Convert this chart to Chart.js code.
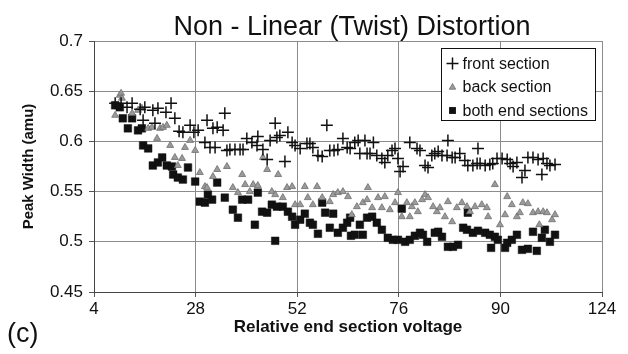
<!DOCTYPE html>
<html>
<head>
<meta charset="utf-8">
<script src="https://cdn.jsdelivr.net/npm/chart.js@4.4.0/dist/chart.umd.min.js"></script>
<style>
  html, body { margin: 0; padding: 0; background: #fff; }
  #wrap { position: relative; width: 628px; height: 354px; }
</style>
</head>
<body>
<div id="wrap"><canvas id="twist-chart"></canvas></div>
<script>
// peak width vs relative end section voltage
const frontX = [9.0, 10.4, 11.8, 13.0, 14.9, 15.6, 16.0, 17.9, 18.4, 19.1, 21.0, 22.2, 23.1, 24.1, 25.0, 26.7, 27.6, 28.6, 30.2, 30.7, 31.4, 32.1, 32.6, 33.1, 34.5, 34.9, 35.4, 36.1, 37.3, 38.5, 39.2, 40.1, 41.3, 42.5, 42.7, 43.9, 44.9, 45.6, 46.8, 47.2, 47.9, 49.1, 49.8, 50.8, 51.5, 52.7, 54.3, 55.0, 55.7, 56.9, 57.9, 59.0, 59.7, 60.7, 61.6, 62.8, 63.8, 64.5, 65.6, 66.4, 66.8, 68.0, 68.5, 69.2, 70.0, 70.8, 72.0, 72.7, 73.4, 74.4, 75.1, 75.8, 76.3, 77.0, 78.6, 80.3, 81.0, 82.2, 82.9, 83.8, 84.5, 85.3, 86.2, 87.4, 87.6, 88.6, 89.3, 90.4, 91.6, 92.3, 93.5, 94.5, 94.7, 95.2, 96.4, 97.5, 98.2, 99.2, 100.4, 101.6, 102.3, 103.0, 103.9, 105.1, 105.8, 106.5, 107.7, 108.9, 109.8, 110.1, 111.0, 111.7, 112.9];
const frontY = [0.638, 0.638, 0.634, 0.638, 0.632, 0.621, 0.634, 0.631, 0.618, 0.633, 0.629, 0.638, 0.623, 0.610, 0.609, 0.616, 0.609, 0.611, 0.599, 0.621, 0.594, 0.613, 0.594, 0.614, 0.611, 0.628, 0.591, 0.592, 0.592, 0.592, 0.592, 0.603, 0.599, 0.596, 0.605, 0.592, 0.582, 0.601, 0.618, 0.604, 0.606, 0.580, 0.609, 0.599, 0.596, 0.593, 0.598, 0.598, 0.594, 0.586, 0.585, 0.616, 0.591, 0.591, 0.592, 0.603, 0.594, 0.593, 0.599, 0.601, 0.588, 0.601, 0.588, 0.588, 0.599, 0.586, 0.583, 0.579, 0.586, 0.591, 0.593, 0.583, 0.570, 0.575, 0.599, 0.593, 0.591, 0.576, 0.574, 0.586, 0.588, 0.590, 0.586, 0.586, 0.601, 0.584, 0.584, 0.588, 0.581, 0.576, 0.576, 0.578, 0.593, 0.578, 0.576, 0.577, 0.578, 0.583, 0.583, 0.582, 0.578, 0.575, 0.579, 0.564, 0.571, 0.584, 0.584, 0.582, 0.567, 0.583, 0.578, 0.576, 0.577];

const backX = [9.0, 10.1, 10.4, 10.6, 13.0, 14.4, 15.3, 16.8, 17.7, 18.9, 19.6, 20.3, 21.2, 22.0, 23.1, 23.8, 24.8, 25.5, 26.7, 27.9, 29.0, 30.2, 30.7, 32.1, 33.1, 35.4, 36.8, 38.0, 39.0, 39.7, 40.8, 41.6, 42.7, 43.9, 44.9, 46.0, 46.8, 47.5, 48.6, 49.6, 50.8, 51.5, 52.7, 53.8, 54.5, 55.7, 56.7, 57.9, 59.7, 60.5, 61.6, 62.8, 64.0, 64.9, 66.1, 67.5, 68.5, 68.7, 69.7, 71.1, 72.0, 72.7, 73.9, 75.1, 75.8, 76.7, 77.9, 78.6, 79.1, 79.8, 80.5, 81.5, 82.2, 82.9, 84.1, 85.0, 85.7, 86.9, 87.6, 88.6, 89.7, 90.9, 92.1, 92.8, 94.0, 95.6, 96.8, 97.1, 98.7, 99.9, 101.1, 101.6, 102.7, 103.9, 104.6, 105.3, 106.5, 107.7, 108.9, 109.2, 110.1, 111.0, 112.2, 112.9];
const backY = [0.626, 0.646, 0.648, 0.643, 0.628, 0.631, 0.633, 0.613, 0.614, 0.603, 0.613, 0.614, 0.616, 0.596, 0.584, 0.576, 0.583, 0.594, 0.601, 0.591, 0.569, 0.555, 0.554, 0.565, 0.572, 0.575, 0.554, 0.549, 0.567, 0.557, 0.550, 0.557, 0.556, 0.584, 0.572, 0.550, 0.547, 0.567, 0.544, 0.554, 0.555, 0.537, 0.537, 0.555, 0.544, 0.537, 0.555, 0.544, 0.540, 0.547, 0.549, 0.550, 0.545, 0.527, 0.535, 0.539, 0.542, 0.554, 0.534, 0.544, 0.534, 0.545, 0.532, 0.539, 0.549, 0.525, 0.539, 0.525, 0.535, 0.539, 0.530, 0.542, 0.547, 0.544, 0.535, 0.530, 0.534, 0.525, 0.540, 0.520, 0.534, 0.539, 0.535, 0.530, 0.535, 0.537, 0.534, 0.525, 0.557, 0.517, 0.527, 0.545, 0.537, 0.525, 0.529, 0.539, 0.538, 0.529, 0.530, 0.517, 0.530, 0.529, 0.522, 0.527];

const bothX = [9.0, 10.1, 10.8, 12.0, 13.0, 14.4, 15.3, 15.6, 16.8, 17.9, 19.1, 20.1, 21.2, 22.4, 22.7, 23.8, 25.0, 26.2, 27.9, 29.0, 30.2, 30.9, 31.9, 33.1, 34.9, 36.8, 38.0, 39.0, 40.4, 42.0, 42.7, 43.7, 44.9, 46.0, 46.8, 47.2, 48.6, 49.8, 50.8, 51.5, 52.7, 53.8, 55.0, 55.7, 56.9, 57.9, 58.6, 59.7, 60.5, 61.6, 62.8, 63.8, 64.5, 64.7, 65.6, 66.8, 67.5, 68.5, 69.7, 70.8, 72.0, 73.4, 74.6, 75.8, 76.7, 77.5, 78.6, 79.8, 81.0, 81.7, 82.7, 84.5, 85.3, 86.2, 87.6, 88.8, 90.0, 91.2, 92.1, 92.3, 93.5, 94.7, 96.4, 97.5, 97.8, 98.7, 99.4, 101.1, 101.6, 102.7, 103.9, 105.1, 106.5, 107.7, 108.6, 109.8, 110.5, 111.7, 112.9];
const bothY = [0.636, 0.634, 0.623, 0.613, 0.623, 0.611, 0.613, 0.596, 0.593, 0.576, 0.579, 0.584, 0.576, 0.575, 0.567, 0.564, 0.562, 0.574, 0.560, 0.540, 0.539, 0.547, 0.542, 0.559, 0.544, 0.532, 0.524, 0.542, 0.542, 0.517, 0.549, 0.530, 0.529, 0.537, 0.501, 0.535, 0.535, 0.530, 0.525, 0.517, 0.522, 0.528, 0.519, 0.517, 0.508, 0.539, 0.529, 0.514, 0.528, 0.509, 0.514, 0.519, 0.524, 0.506, 0.507, 0.517, 0.507, 0.524, 0.525, 0.519, 0.512, 0.504, 0.502, 0.502, 0.533, 0.500, 0.502, 0.506, 0.509, 0.507, 0.500, 0.509, 0.510, 0.505, 0.495, 0.495, 0.497, 0.514, 0.512, 0.529, 0.509, 0.511, 0.509, 0.507, 0.494, 0.505, 0.502, 0.494, 0.499, 0.502, 0.507, 0.492, 0.493, 0.510, 0.491, 0.504, 0.512, 0.500, 0.507];

const xTicks = [4, 28, 52, 76, 100, 124];
const xTickLabels = ["4", "28", "52", "76", "90", "124"];
const yTicks = [0.45, 0.5, 0.55, 0.6, 0.65, 0.7];
const yTickLabels = ["0.45", "0.5", "0.55", "0.6", "0.65", "0.7"];
const seriesNames = ["front section", "back section", "both end sections"];

const FONT = "'Liberation Sans', Arial, Helvetica, sans-serif";
const INK = "#111";

const toPoints = (xs, ys) => xs.map((x, i) => ({ x: x, y: ys[i] }));

const markerStyles = [
  { pointStyle: "cross", radius: 6, fill: INK, stroke: INK, width: 1.5 },
  { pointStyle: "triangle", radius: 4, fill: "#9a9a9a", stroke: "#6e6e6e", width: 0.8 },
  { pointStyle: "rect", radius: 5.4, fill: INK, stroke: INK, width: 0.5 },
];

// legend markers drawn by hand, same shapes as the points
function drawMarker(ctx, style, x, y) {
  ctx.save();
  ctx.fillStyle = style.fill;
  ctx.strokeStyle = style.stroke;
  ctx.lineWidth = style.width;
  ctx.beginPath();
  if (style.pointStyle === "cross") {
    const r = style.radius;
    ctx.moveTo(x - r, y); ctx.lineTo(x + r, y);
    ctx.moveTo(x, y - r); ctx.lineTo(x, y + r);
    ctx.stroke();
  } else if (style.pointStyle === "triangle") {
    const r = style.radius * 0.8;
    ctx.moveTo(x, y - r * 1.1);
    ctx.lineTo(x + r, y + r * 0.7);
    ctx.lineTo(x - r, y + r * 0.7);
    ctx.closePath();
    ctx.fill(); ctx.stroke();
  } else {
    const s = style.radius * Math.SQRT1_2 * 0.9;
    ctx.rect(x - s, y - s, 2 * s, 2 * s);
    ctx.fill();
  }
  ctx.restore();
}

// title, panel letter and boxed legend
const decorPlugin = {
  id: "decor",
  afterDraw(chart) {
    const { ctx, chartArea: area } = chart;
    ctx.save();
    ctx.fillStyle = INK;
    ctx.font = `27px ${FONT}`;
    ctx.textAlign = "center";
    ctx.textBaseline = "alphabetic";
    ctx.fillText("Non - Linear (Twist) Distortion", (area.left + area.right) / 2 + 4, area.top - 6);

    ctx.font = `27px ${FONT}`;
    ctx.textAlign = "left";
    ctx.fillText("(c)", 7, 342);

    const box = { x: area.right - 160.5, y: area.top + 7.5, w: 154, h: 72 };
    ctx.fillStyle = "#fff";
    ctx.fillRect(box.x, box.y, box.w, box.h);
    ctx.strokeStyle = INK;
    ctx.lineWidth = 1;
    ctx.strokeRect(box.x, box.y, box.w, box.h);

    ctx.font = `16px ${FONT}`;
    ctx.textBaseline = "middle";
    seriesNames.forEach((name, i) => {
      const rowY = box.y + 15 + i * 23.5;
      drawMarker(ctx, markerStyles[i], box.x + 11, rowY);
      ctx.fillStyle = INK;
      ctx.fillText(name, box.x + 21, rowY + 1);
    });
    ctx.restore();
  },
};

const datasets = [
  [frontX, frontY],
  [backX, backY],
  [bothX, bothY],
].map(([xs, ys], i) => ({
  label: seriesNames[i],
  data: toPoints(xs, ys),
  pointStyle: markerStyles[i].pointStyle,
  pointRadius: markerStyles[i].radius,
  pointHoverRadius: markerStyles[i].radius,
  backgroundColor: markerStyles[i].fill,
  borderColor: markerStyles[i].stroke,
  borderWidth: markerStyles[i].width,
  showLine: false,
}));

new Chart(document.getElementById("twist-chart"), {
  type: "scatter",
  data: { datasets: datasets },
  options: {
    responsive: true,
    maintainAspectRatio: false,
    animation: false,
    layout: { padding: { top: 41, right: 26, bottom: 0, left: 0 } },
    scales: {
      x: {
        type: "linear",
        min: xTicks[0],
        max: xTicks[xTicks.length - 1],
        afterBuildTicks: (scale) => {
          scale.ticks = xTicks.map((v) => ({ value: v }));
        },
        afterFit: (scale) => {
          scale.height = 62;
        },
        ticks: {
          color: INK,
          padding: 2,
          font: { family: FONT, size: 17 },
          callback: (value, index) => xTickLabels[index],
        },
        grid: { color: "#8c8c8c", lineWidth: 1, tickLength: 5, tickColor: "#555" },
        border: { color: "#444", width: 1 },
        title: {
          display: true,
          text: "Relative end section voltage",
          color: INK,
          font: { family: FONT, size: 17, weight: "bold" },
          padding: { top: 0, bottom: 16 },
        },
      },
      y: {
        type: "linear",
        min: yTicks[0],
        max: yTicks[yTicks.length - 1],
        afterBuildTicks: (scale) => {
          scale.ticks = yTicks.map((v) => ({ value: v }));
        },
        afterFit: (scale) => {
          scale.width = 94;
        },
        ticks: {
          color: INK,
          padding: 6,
          font: { family: FONT, size: 17 },
          callback: (value, index) => yTickLabels[index],
        },
        grid: { color: "#8c8c8c", lineWidth: 1, tickLength: 5, tickColor: "#555" },
        border: { color: "#444", width: 1 },
        title: {
          display: true,
          text: "Peak Width (amu)",
          color: INK,
          font: { family: FONT, size: 15, weight: "bold" },
          padding: { top: 20, bottom: 0 },
        },
      },
    },
    plugins: {
      legend: { display: false },
      tooltip: { enabled: false },
    },
  },
  plugins: [decorPlugin],
});
</script>
</body>
</html>
